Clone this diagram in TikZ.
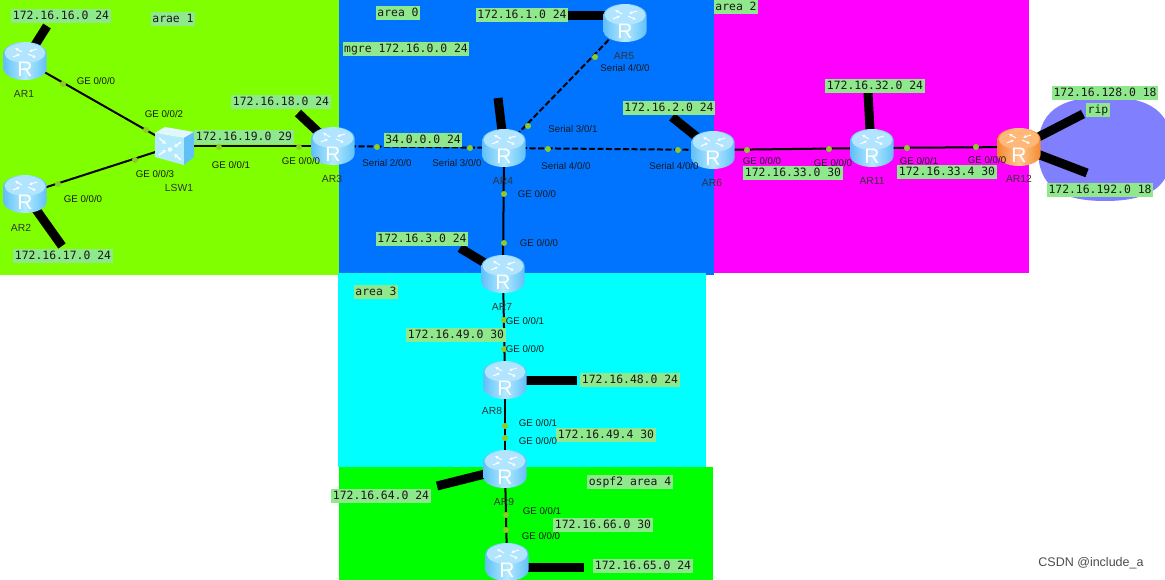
\documentclass[tikz,border=0pt]{standalone}
\usepackage{fontspec}
\setmainfont{Liberation Sans}
\newfontfamily\monofam{DejaVu Sans Mono}
\usetikzlibrary{arrows.meta}
\definecolor{zonelime}{HTML}{80FF00}
\definecolor{zoneblue}{HTML}{0073FF}
\definecolor{zonemag}{HTML}{FF00FF}
\definecolor{zonecyan}{HTML}{00FFFF}
\definecolor{zonegreen}{HTML}{00FF00}
\definecolor{ripblue}{HTML}{8080FF}
\definecolor{labelgreen}{HTML}{90E88C}
\definecolor{dotgreen}{HTML}{8CCB2A}
\definecolor{rEdge}{HTML}{62C0F8}
\definecolor{rMid}{HTML}{B4EAFF}
\definecolor{rTop}{HTML}{B0E4FF}
\definecolor{oEdge}{HTML}{F58A30}
\definecolor{oMid}{HTML}{FFC890}
\definecolor{oTop}{HTML}{FFB878}
\tikzset{
  netlabel/.style={fill=labelgreen,inner xsep=1.5pt,inner ysep=2.3pt,text height=8.5pt,text depth=1.5pt,font=\monofam\fontsize{11.4}{12}\selectfont,text=black!90},
  portlabel/.style={inner sep=0pt,font=\fontsize{9.7}{11}\selectfont,text=black!90},
  devlabel/.style={inner sep=0pt,font=\fontsize{10.3}{12}\selectfont,text=black!80},
  devanchor/.style={minimum width=43pt,minimum height=38pt,inner sep=0pt},
  stub/.style={line width=9pt,black},
  linkline/.style={line width=2pt,black},
  seriallink/.style={line width=2pt,black,dash pattern=on 6pt off 2.5pt},
  portdot/.style={circle,fill=dotgreen,minimum size=6pt,inner sep=0pt},
}
\newcommand{\routerart}[5]{% x y edge mid top
\begin{scope}[shift={(#1,#2)}]
  \path[left color=#3,right color=#3,middle color=#4]
    (-21.5,-8) -- (-21.5,8) .. controls (-21.5,14) and (-11.9,19) .. (0,19)
    .. controls (11.9,19) and (21.5,14) .. (21.5,8) -- (21.5,-8)
    .. controls (21.5,-14) and (11.9,-19) .. (0,-19)
    .. controls (-11.9,-19) and (-21.5,-14) .. (-21.5,-8) -- cycle;
  \path[fill=#5] (-20.5,-8) .. controls (-20.5,-13.5) and (-11.3,-18) .. (0,-18)
    .. controls (11.3,-18) and (20.5,-13.5) .. (20.5,-8)
    .. controls (20.5,-2.5) and (11.3,2) .. (0,2)
    .. controls (-11.3,2) and (-20.5,-2.5) .. (-20.5,-8) -- cycle;
  \begin{scope}[white,line width=1pt,-{Latex[length=3pt,width=3.5pt]}]
    \draw (-12,-4) -- (-5,-7);
    \draw (-3,-9) -- (-10,-13);
    \draw (3,-7) -- (11,-3.5);
    \draw (12,-12) -- (4,-9.5);
  \end{scope}
  \node[white,inner sep=0pt,font=\fontsize{21}{22}\selectfont] at (0,8) {R};
\end{scope}}
\begin{document}
\begin{tikzpicture}[x=1pt,y=-1pt]
\useasboundingbox (0,0) rectangle (1165,580);
\begin{scope}
\clip (0,0) rectangle (1165,580);
\fill[white] (0,0) rectangle (1165,580);
% zones
\fill[zonelime] (0,0) rectangle (339,275);
\fill[zonemag] (714,0) rectangle (1029,273);
\fill[zonecyan] (338,273) rectangle (706,467);
\fill[zonegreen] (339,467) rectangle (713,580);
\fill[zoneblue] (339,0) rectangle (714,275);
\fill[zonecyan] (339,273) rectangle (706,275);
\fill[ripblue] (1038,149) .. controls (1038,113) and (1058,97) .. (1105,97)
  .. controls (1152,97) and (1172,113) .. (1172,149)
  .. controls (1172,185) and (1152,201) .. (1105,201)
  .. controls (1058,201) and (1038,185) .. (1038,149) -- cycle;
% anchors
\node[devanchor] (AR1) at (25,61) {};
\node[devanchor] (AR2) at (25,194) {};
\node[devanchor] (AR3) at (333,146) {};
\node[devanchor] (AR4) at (504,148) {};
\node[devanchor] (AR5) at (625,23) {};
\node[devanchor] (AR6) at (713,150) {};
\node[devanchor] (AR7) at (503,274) {};
\node[devanchor] (AR8) at (505,380) {};
\node[devanchor] (AR9) at (505,469) {};
\node[devanchor] (AR10) at (507,562) {};
\node[devanchor] (AR11) at (872,148) {};
\node[devanchor] (AR12) at (1019,147) {};
\node[minimum width=39pt,minimum height=38pt,inner sep=0pt] (LSW1) at (174,146) {};
% stub ends
\coordinate (s1) at (47,26);
\coordinate (s2) at (62,246);
\coordinate (s3) at (298,113);
\coordinate (s4) at (498,98);
\coordinate (s5) at (566,16);
\coordinate (s6) at (672,117);
\coordinate (s7) at (460,248);
\coordinate (s8) at (577,380);
\coordinate (s9) at (437,486);
\coordinate (s10) at (584,567);
\coordinate (s11) at (868,93);
\coordinate (s12a) at (1083,114);
\coordinate (s12b) at (1087,173);
\foreach \d/\s in {AR1/s1,AR2/s2,AR3/s3,AR4/s4,AR6/s6,AR7/s7,AR9/s9,AR12/s12a,AR12/s12b}
  \draw[stub] (\d.center) -- (\s);
\draw[stub] (AR5.center |- s5) -- (s5);
\draw[stub] (AR8.center |- s8) -- (s8);
\draw[stub] (AR10.center |- s10) -- (s10);
\draw[stub] (AR11.center) ++(-1,0) -- (s11);
% links
\draw[linkline] (AR1.center) -- (LSW1.center);
\draw[linkline] (AR2.center) -- (LSW1.center);
\draw[linkline] (LSW1.center) -- (AR3.center);
\draw[seriallink] (AR3.center) -- (AR4.center);
\draw[seriallink] (AR4.center) -- (AR5.center);
\draw[seriallink] (AR4.center) -- (AR6.center);
\draw[linkline] (AR4.center) -- (AR7.center);
\draw[linkline] (AR6.center) -- (AR11.center);
\draw[linkline] (AR11.center) -- (AR12.center);
\draw[linkline] (AR7.center) -- (AR8.center);
\draw[linkline] (AR8.center) -- (AR9.center);
\draw[linkline] (AR9.center) -- (AR10.center);
% port dots
\foreach \i/\p in {a/{63,84},b/{146,130},c/{58,184},d/{135,160},e/{219,147},f/{299,147},g/{377,147},h/{470,148},i/{528,126},j/{595,57},k/{548,149},l/{678,150},m/{504,194},n/{504,243},o/{747,150},p/{829,149},q/{907,148},r/{976,147},t/{504,320},u/{504,349},v/{505,426},w/{505,438},x/{506,515},y/{506,530}}
  \node[portdot] (dot\i) at (\p) {};
% routers
\foreach \x/\y in {25/61,25/194,333/146,504/148,625/23,713/150,503/274,505/380,505/469,507/562,872/148}
  \routerart{\x}{\y}{rEdge}{rMid}{rTop};
\routerart{1019}{147}{oEdge}{oMid}{oTop}
% switch
\fill[rMid] (155,133) -- (184,138) -- (184,165) -- (155,157) -- cycle;
\fill[white!60!rMid] (155,133) -- (165,127) -- (194,132) -- (184,138) -- cycle;
\fill[rEdge] (184,138) -- (194,132) -- (194,157) -- (184,165) -- cycle;
\begin{scope}[white,line width=1.3pt,-{Latex[length=3.5pt,width=4.5pt]}]
  \draw (159,138) -- (166,144);
  \draw (181,142) -- (174,147);
  \draw (159,155) -- (166,150);
  \draw (181,160) -- (174,154);
\end{scope}
\fill[white] (170,149.5) circle (2.2pt);
% net labels
\node[netlabel] (n1) at (61,16) {172.16.16.0 24};
\node[netlabel] (n2) at (173,19) {arae 1};
\node[netlabel] (n3) at (281,102) {172.16.18.0 24};
\node[netlabel] (n4) at (244,137) {172.16.19.0 29};
\node[netlabel] (n5) at (63,256) {172.16.17.0 24};
\node[netlabel] (n6) at (423,140) {34.0.0.0 24};
\node[netlabel] (n7) at (398,13) {area 0};
\node[netlabel] (n8) at (406,49) {mgre 172.16.0.0 24};
\node[netlabel] (n9) at (522,15) {172.16.1.0 24};
\node[netlabel] (n10) at (669,108) {172.16.2.0 24};
\node[netlabel] (n11) at (422,239) {172.16.3.0 24};
\node[netlabel] (n12) at (736,7) {area 2};
\node[netlabel] (n13) at (875,86) {172.16.32.0 24};
\node[netlabel] (n14) at (793,173) {172.16.33.0 30};
\node[netlabel] (n15) at (947,172) {172.16.33.4 30};
\node[netlabel] (n16) at (1105,93) {172.16.128.0 18};
\node[netlabel] (n17) at (1098,110) {rip};
\node[netlabel] (n18) at (1100,190) {172.16.192.0 18};
\node[netlabel] (n19) at (376,292) {area 3};
\node[netlabel] (n20) at (456,335) {172.16.49.0 30};
\node[netlabel] (n21) at (630,380) {172.16.48.0 24};
\node[netlabel] (n22) at (606,435) {172.16.49.4 30};
\node[netlabel] (n23) at (381,496) {172.16.64.0 24};
\node[netlabel] (n24) at (630,482) {ospf2 area 4};
\node[netlabel] (n25) at (603,525) {172.16.66.0 30};
\node[netlabel] (n26) at (643,566) {172.16.65.0 24};
% port labels
\foreach \i/\p/\t in {1/{96,81}/GE 0\slash0\slash0,2/{164,114}/GE 0\slash0\slash2,3/{231,165}/GE 0\slash0\slash1,4/{301,161}/GE 0\slash0\slash0,5/{155,174}/GE 0\slash0\slash3,6/{83,199}/GE 0\slash0\slash0,
7/{387,163}/Serial 2\slash0\slash0,8/{457,163}/Serial 3\slash0\slash0,9/{537,194}/GE 0\slash0\slash0,10/{539,243}/GE 0\slash0\slash0,11/{573,129}/Serial 3\slash0\slash1,12/{566,166}/Serial 4\slash0\slash0,13/{674,166}/Serial 4\slash0\slash0,14/{625,68}/Serial 4\slash0\slash0,
15/{762,161}/GE 0\slash0\slash0,16/{833,163}/GE 0\slash0\slash0,17/{919,161}/GE 0\slash0\slash1,18/{987,160}/GE 0\slash0\slash0,
19/{525,321}/GE 0\slash0\slash1,20/{525,349}/GE 0\slash0\slash0,21/{538,423}/GE 0\slash0\slash1,22/{538,441}/GE 0\slash0\slash0,23/{542,511}/GE 0\slash0\slash1,24/{541,536}/GE 0\slash0\slash0}
  \node[portlabel] (port\i) at (\p) {\t};
% device labels
\foreach \n/\p in {AR1/{24,94},AR2/{21,228},AR3/{332,179},AR4/{503,181},AR5/{624,56},AR6/{712,183},AR7/{502,307},AR8/{492,411},AR9/{504,502},AR11/{872,181},AR12/{1019,179},LSW1/{179,188}}
  \node[devlabel] (lab\n) at (\p) {\n};
\node[inner sep=0pt,font=\fontsize{12.5}{14}\selectfont,text=black!70] (mark) at (1091,563) {CSDN @include\_a};
\end{scope}
\end{tikzpicture}
\end{document}
